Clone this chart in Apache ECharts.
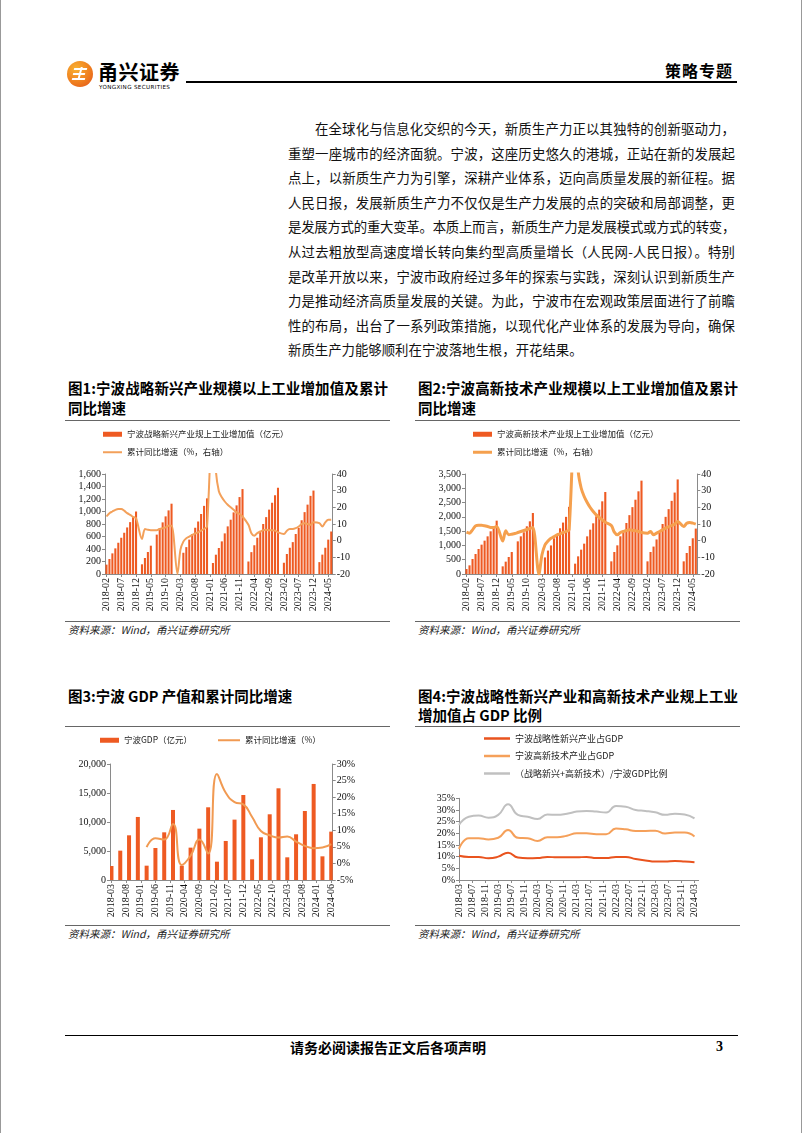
<!DOCTYPE html>
<html><head><meta charset="utf-8">
<script src="https://cdn.jsdelivr.net/npm/echarts@6/dist/echarts.min.js"></script>
<style>
body{margin:0;background:#fff;}
#page{position:relative;width:802px;height:1133px;overflow:hidden;font-family:"Noto Sans CJK SC",sans-serif;color:#000;background:#fff;}
.a{position:absolute;white-space:nowrap;}
.pl{position:absolute;left:288px;width:447px;font-size:13.4px;height:18px;line-height:18px;text-align:justify;text-align-last:justify;color:#111;}
.tt{position:absolute;font-size:14.5px;font-weight:bold;height:20px;line-height:20px;color:#000;}
.hr{position:absolute;height:1px;background:#666;}
.src{position:absolute;font-size:10.5px;font-style:italic;color:#222;line-height:14px;}
.ch{position:absolute;}
</style></head>
<body><div id="page">
<div class="a" style="left:0;top:0;width:1px;height:1133px;background:#999;"></div>
<div class="a" style="left:801px;top:0;width:1px;height:1133px;background:#999;"></div>
<!-- header -->
<div class="a" style="left:67px;top:61px;width:26px;height:26px;border-radius:50%;background:radial-gradient(circle at 35% 30%,#F9B233,#EE7A1E 60%,#E0501C);"></div>
<div class="a" style="left:74px;top:68px;width:13px;height:2px;background:#fff;transform:skewX(-15deg);"></div>
<div class="a" style="left:73px;top:73px;width:12px;height:2px;background:#fff;transform:skewX(-15deg);"></div>
<div class="a" style="left:72px;top:78px;width:13px;height:2px;background:#fff;transform:skewX(-15deg);"></div>
<div class="a" style="left:79px;top:67px;width:2px;height:13px;background:#fff;transform:skewX(-15deg);"></div>
<div class="a" style="left:98px;top:60px;font-size:20px;font-weight:bold;line-height:24px;letter-spacing:0.5px;">甬兴证券</div>
<div class="a" style="left:99px;top:84px;font-size:5.6px;line-height:7px;letter-spacing:0.35px;font-family:'DejaVu Sans';">YONGXING SECURITIES</div>
<div class="a" style="left:186px;top:81px;width:551px;height:2px;background:#000;"></div>
<div class="a" style="left:665px;top:60px;font-size:16px;font-weight:bold;line-height:20px;letter-spacing:1px;">策略专题</div>

<!-- paragraph -->
<div class="pl" style="top:119px;padding-left:27px;width:420px;">在全球化与信息化交织的今天，新质生产力正以其独特的创新驱动力，</div>
<div class="pl" style="top:144px;">重塑一座城市的经济面貌。宁波，这座历史悠久的港城，正站在新的发展起</div>
<div class="pl" style="top:168px;">点上，以新质生产力为引擎，深耕产业体系，迈向高质量发展的新征程。据</div>
<div class="pl" style="top:193px;">人民日报，发展新质生产力不仅仅是生产力发展的点的突破和局部调整，更</div>
<div class="pl" style="top:217px;letter-spacing:-0.35px;">是发展方式的重大变革。本质上而言，新质生产力是发展模式或方式的转变，</div>
<div class="pl" style="top:242px;">从过去粗放型高速度增长转向集约型高质量增长（人民网-人民日报）。特别</div>
<div class="pl" style="top:267px;">是改革开放以来，宁波市政府经过多年的探索与实践，深刻认识到新质生产</div>
<div class="pl" style="top:291px;">力是推动经济高质量发展的关键。为此，宁波市在宏观政策层面进行了前瞻</div>
<div class="pl" style="top:316px;">性的布局，出台了一系列政策措施，以现代化产业体系的发展为导向，确保</div>
<div class="pl" style="top:340px;text-align-last:left;">新质生产力能够顺利在宁波落地生根，开花结果。</div>

<!-- titles row 1 -->
<div class="tt" style="left:68px;top:378px;width:320px;text-align-last:justify;">图1:宁波战略新兴产业规模以上工业增加值及累计</div>
<div class="tt" style="left:68px;top:398px;">同比增速</div>
<div class="hr" style="left:65px;top:420px;width:325px;"></div>
<div class="tt" style="left:418px;top:378px;width:320px;text-align-last:justify;">图2:宁波高新技术产业规模以上工业增加值及累计</div>
<div class="tt" style="left:418px;top:398px;">同比增速</div>
<div class="hr" style="left:415px;top:420px;width:325px;"></div>

<div class="ch" id="c1" style="left:65px;top:420px;width:325px;height:200px;"></div>
<div class="ch" id="c2" style="left:415px;top:420px;width:325px;height:200px;"></div>

<div class="hr" style="left:65px;top:621px;width:325px;"></div>
<div class="src" style="left:68px;top:623px;">资料来源：Wind，甬兴证券研究所</div>
<div class="hr" style="left:415px;top:621px;width:325px;"></div>
<div class="src" style="left:418px;top:623px;">资料来源：Wind，甬兴证券研究所</div>

<!-- titles row 2 -->
<div class="tt" style="left:68px;top:686px;">图3:宁波 GDP 产值和累计同比增速</div>
<div class="hr" style="left:65px;top:726px;width:325px;"></div>
<div class="tt" style="left:418px;top:686px;width:320px;text-align-last:justify;">图4:宁波战略性新兴产业和高新技术产业规上工业</div>
<div class="tt" style="left:418px;top:705px;">增加值占 GDP 比例</div>
<div class="hr" style="left:415px;top:726px;width:325px;"></div>

<div class="ch" id="c3" style="left:65px;top:727px;width:325px;height:198px;"></div>
<div class="a" style="left:415px;top:727px;width:284px;height:198px;overflow:hidden;">
  <div class="ch" id="c4" style="left:0;top:-2px;width:300px;height:200px;"></div>
</div>

<div class="hr" style="left:65px;top:925px;width:325px;"></div>
<div class="src" style="left:68px;top:927px;">资料来源：Wind，甬兴证券研究所</div>
<div class="hr" style="left:415px;top:925px;width:325px;"></div>
<div class="src" style="left:418px;top:927px;">资料来源：Wind，甬兴证券研究所</div>

<!-- footer -->
<div class="a" style="left:65px;top:1035px;width:673px;height:1px;background:#000;"></div>
<div class="a" style="left:290px;top:1038px;font-size:14px;font-weight:bold;line-height:18px;">请务必阅读报告正文后各项声明</div>
<div class="a" style="left:716px;top:1038px;font-size:14px;font-weight:bold;line-height:18px;font-family:'Liberation Serif';">3</div>
</div>

<script>
// ---------- data ----------
var months = ['2018-02','2018-03','2018-04','2018-05','2018-06','2018-07','2018-08','2018-09','2018-10','2018-11','2018-12',
'2019-01','2019-02','2019-03','2019-04','2019-05','2019-06','2019-07','2019-08','2019-09','2019-10','2019-11','2019-12',
'2020-01','2020-02','2020-03','2020-04','2020-05','2020-06','2020-07','2020-08','2020-09','2020-10','2020-11','2020-12',
'2021-01','2021-02','2021-03','2021-04','2021-05','2021-06','2021-07','2021-08','2021-09','2021-10','2021-11','2021-12',
'2022-01','2022-02','2022-03','2022-04','2022-05','2022-06','2022-07','2022-08','2022-09','2022-10','2022-11','2022-12',
'2023-01','2023-02','2023-03','2023-04','2023-05','2023-06','2023-07','2023-08','2023-09','2023-10','2023-11','2023-12',
'2024-01','2024-02','2024-03','2024-04','2024-05','2024-06'];
var monthsFromMar = months.slice(1);

// Chart 1: strategic emerging industry value added (100m yuan), cumulative YoY (%)
var emg2018 = [150,240,330,410,500,580,660,745,830,910,1000];
var emg2019 = [null,155,256,352,453,null,630,735,826,922,1018,1125];
var emg2020 = [null,null,null,340,430,550,640,740,840,960,1090,1210];
var emg2021 = [null,176,309,416,522,650,762,869,986,1098,1231,1359];
var emg2022 = [null,200,350,460,580,680,800,910,1030,1140,1260,1380];
var emg2023 = [null,180,320,420,510,640,740,860,990,1110,1250,1335];
var emg2024 = [null,190,310,420,550,680];
var emgY2018 = [14.5,16.5,17.5,18.5,19,19,18,16.5,15.5,14.3,13.5];
var emgY2019 = [null,1,7,6.5,6.3,6.3,6.3,7,7.5,8,9,9];
var emgY2020 = [null,-20,-5.5,-0.6,1.4,2.4,3.5,4.3,5,6,7,8.5];
var emgY2021 = [null,80,42,29.6,26,23.5,21.5,20,18.5,17,16,14.5];
var emgY2022 = [null,9.5,4.5,3,4.5,5.5,6.3,6.5,6.3,6.3,6,5];
var emgY2023 = [null,4,6,7,7,7.5,8.5,10,10.5,10,9.5,11];
var emgY2024 = [null,10.5,8.5,11,12.5,12.5];

// Chart 2: high-tech industry value added, cumulative YoY
var ht2018 = [175,303,525,700,875,1027,1167,1318,1494,1634,1867];
var ht2019 = [null,268,432,595,770,null,1143,1318,1459,1669,1844,2135];
var ht2020 = [null,null,null,580,820,1000,1250,1400,1600,1800,2000,2350];
var ht2021 = [null,362,618,852,1062,1318,1552,1774,2019,2252,2544,2870];
var ht2022 = [null,443,770,1003,1320,1520,1785,2060,2340,2600,2894,3267];
var ht2023 = [null,443,770,960,1210,1494,1750,2000,2270,2560,2850,3310];
var ht2024 = [null,443,735,980,1250,1590];
var htY2018 = [5.1,4.5,6.5,8.9,9.3,9.3,8.9,8.5,7.9,7.9,8.5];
var htY2019 = [null,-0.2,5.9,3.5,3.9,4.3,4.9,5.5,6.1,6.7,7.3,7.9];
var htY2020 = [null,-20,-8.6,-2.6,-0.2,1.4,2.4,3.5,4.1,4.9,5.5,6.5];
var htY2021 = [null,80,42,31.6,26.5,22.9,19.9,17.5,15.5,13.9,12.5,11.1];
var htY2022 = [null,9.1,5.1,3.5,4.9,5.5,6.1,6.5,6.3,5.9,5.5,4.9];
var htY2023 = [null,4.5,5.5,3.5,4.5,5.5,6.5,7.5,8.3,9.1,9.9,11.5];
var htY2024 = [null,8.5,10.5,10.9,10.5,9.9];

// Chart 3: GDP (quarterly cumulative)
var gdpQuarters = ['2018-03','2018-06','2018-09','2018-12','2019-03','2019-06','2019-09','2019-12',
'2020-03','2020-06','2020-09','2020-12','2021-03','2021-06','2021-09','2021-12',
'2022-03','2022-06','2022-09','2022-12','2023-03','2023-06','2023-09','2023-12','2024-03','2024-06'];
var gdpValue = [2415,5060,7705,10870,2470,5520,8220,12075,2470,5580,8855,12535,3160,6730,10410,14660,3565,7360,11330,15810,3910,7880,11900,16560,4080,8340];
var gdpGrowth = [null,null,null,null,4.9,7.6,7.2,11.9,-0.5,2.3,7.2,3.0,27.0,21.3,18.5,17.8,14.0,9.8,8.5,7.8,8.1,6.6,5.3,4.6,4.8,5.8];

// Chart 4: share of GDP (%)
var shareQuarters = gdpQuarters.slice(0,25);
var shareEmerging = [10.4,9.9,9.9,9.3,10,11.7,9.6,9.3,9.4,9.9,9.7,9.7,9.7,9.9,9.4,9.4,9.9,9.9,9,8.4,7.9,7.9,8.1,7.9,7.6];
var shareHighTech = [13.3,17.9,17.9,17.4,18.1,21.4,18.1,17.9,16.7,18.3,18.3,19,20,20,19.6,19.6,22.1,21.7,21,21,21.1,19.9,20.3,20.3,18.6];
var shareCombined = [23.6,27.1,27.6,26.7,27.9,32.4,27.9,27.1,26.1,28.1,27.9,28.4,29.3,29.6,29.3,28.9,31.7,31.4,30,29.6,29,27.9,28.4,28.1,26.4];

// ---------- helpers ----------
var emgBars = [].concat(emg2018,emg2019,emg2020,emg2021,emg2022,emg2023,emg2024);
var emgLine = [].concat(emgY2018,emgY2019,emgY2020,emgY2021,emgY2022,emgY2023,emgY2024);
var htBars = [].concat(ht2018,ht2019,ht2020,ht2021,ht2022,ht2023,ht2024);
var htLine = [].concat(htY2018,htY2019,htY2020,htY2021,htY2022,htY2023,htY2024);
function pairs(cats, vals){ var r=[]; for(var i=0;i<cats.length;i++){ if(vals[i]!=null) r.push([cats[i],vals[i]]); } return r; }

var SERIF = 'Liberation Serif';
var CJK = 'Noto Sans CJK SC';
var AX = '#8a8a8a';
var BAR = '#EE5A22';
function thousands(v){ return v.toLocaleString('en-US'); }
function xAxisCfg(cats, interval){
  return {type:'category', data:cats, boundaryGap:true,
    axisLine:{lineStyle:{color:AX,width:1}},
    axisTick:{show:true, interval:interval, alignWithLabel:true, length:3, lineStyle:{color:AX}},
    axisLabel:{interval:interval, rotate:90, fontFamily:SERIF, fontSize:10, color:'#111', margin:4}};
}
function yAxisCfg(min,max,interval,fmt,pos){
  return {type:'value', min:min, max:max, interval:interval, position:pos,
    axisLine:{show:true, lineStyle:{color:AX}}, axisTick:{show:true, length:3, lineStyle:{color:AX}},
    splitLine:{show:false},
    axisLabel:{formatter:fmt, fontFamily:SERIF, fontSize:10, color:'#111', margin:4}};
}
function legendItem(left, top, name, w, h, fs){
  return {left:left, top:top, padding:0, itemWidth:w, itemHeight:h, icon:'rect',
    textStyle:{fontFamily:CJK, fontSize:fs, color:'#222'}, data:[{name:name, icon:'rect'}]};
}

function barLineChart(id, legendLeft, gridLeft, gridWidth, barsName, lineName, bars, line, leftMax, leftInt, lineWidth, lineColor){
  var ch = echarts.init(document.getElementById(id), null, {renderer:'canvas'});
  ch.setOption({
    animation:false,
    legend: [legendItem(legendLeft, 10, barsName, 19, 5, 8.5), legendItem(legendLeft, 28, lineName, 19, lineWidth, 8.5)],
    grid:{left:gridLeft, width:gridWidth, top:54, height:100},
    xAxis: xAxisCfg(months, 4),
    yAxis:[yAxisCfg(0,leftMax,leftInt,thousands,'left'), yAxisCfg(-20,40,10,'{value}','right')],
    series:[
      {name:barsName, type:'bar', data:bars, barWidth:'70%', itemStyle:{color:BAR}},
      {name:lineName, type:'line', yAxisIndex:1, data:line, connectNulls:true, smooth:0.3, symbol:'none',
       lineStyle:{color:lineColor, width:lineWidth}, itemStyle:{color:lineColor}, z:5}
    ]
  });
}
barLineChart('c1', 38, 40, 227.7, '宁波战略新兴产业规上工业增加值（亿元）', '累计同比增速（%，右轴）', emgBars, emgLine, 1600, 200, 2, '#F3A05A');
barLineChart('c2', 58, 50, 232.3, '宁波高新技术产业规上工业增加值（亿元）', '累计同比增速（%，右轴） ', htBars, htLine, 3500, 500, 3, '#F5A04E');

// Chart 3
(function(){
  var ch = echarts.init(document.getElementById('c3'), null, {renderer:'canvas'});
  ch.setOption({
    animation:false,
    legend: [legendItem(35, 9, '宁波GDP（亿元）', 19, 5, 8.5), legendItem(153, 9, '累计同比增速（%）', 22, 2, 8.5)],
    grid:{left:45, width:222.7, top:37, height:116},
    xAxis: xAxisCfg(monthsFromMar, 4),
    yAxis:[yAxisCfg(0,20000,5000,thousands,'left'), yAxisCfg(-5,30,5,'{value}%','right')],
    series:[
      {name:'宁波GDP（亿元）', type:'bar', data:pairs(gdpQuarters,gdpValue), barWidth:4, itemStyle:{color:BAR}},
      {name:'累计同比增速（%）', type:'line', yAxisIndex:1, data:pairs(gdpQuarters,gdpGrowth), smooth:0.5, symbol:'none',
       lineStyle:{color:'#F19A52', width:2}, itemStyle:{color:'#F19A52'}, z:5}
    ]
  });
})();

// Chart 4
(function(){
  var ch = echarts.init(document.getElementById('c4'), null, {renderer:'canvas'});
  var n1='宁波战略性新兴产业占GDP', n2='宁波高新技术产业占GDP', n3='（战略新兴+高新技术）/宁波GDP比例';
  function ln(name, vals, color){
    return {name:name, type:'line', data:pairs(shareQuarters, vals), smooth:0.5, symbol:'none',
      lineStyle:{color:color, width:2}, itemStyle:{color:color}};
  }
  ch.setOption({
    animation:false,
    legend: {orient:'vertical', left:69, top:9, padding:0, itemWidth:26, itemHeight:2.5, itemGap:8.5, icon:'rect',
      textStyle:{fontFamily:CJK, fontSize:9, color:'#222'}, data:[n1,n2,n3]},
    grid:{left:44, right:10.7, top:73.3, height:81.7},
    xAxis: (function(){ var x = xAxisCfg(monthsFromMar, 3); x.boundaryGap=false; return x; })(),
    yAxis: yAxisCfg(0,35,5,'{value}%','left'),
    series:[ln(n1, shareEmerging, '#E9531E'), ln(n2, shareHighTech, '#F5A05A'), ln(n3, shareCombined, '#C0C0C0')]
  });
})();
</script>
</body></html>
